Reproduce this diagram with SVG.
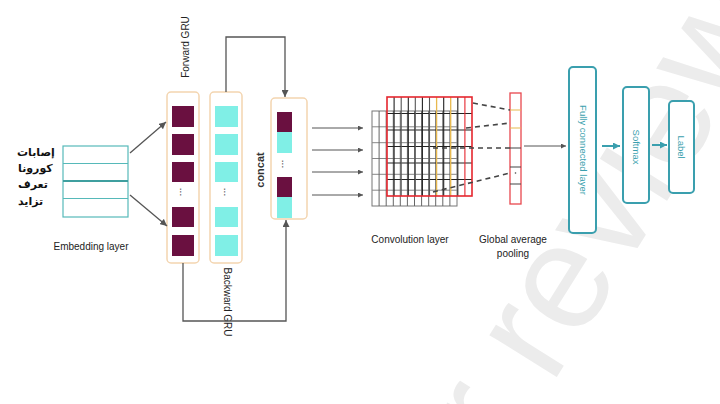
<svg xmlns="http://www.w3.org/2000/svg" width="720" height="404" viewBox="0 0 720 404">
<defs>
<style>
.lbl{font-family:"Liberation Sans",Arial,sans-serif;font-size:10px;fill:#222;}
.ar{font-family:"DejaVu Sans","Noto Sans",sans-serif;font-size:11px;font-weight:bold;fill:#111;}
.teal{font-family:"Liberation Sans",Arial,sans-serif;font-size:9.5px;fill:#3a9fae;}
.gru{fill:#fff;stroke:#f3d5b0;stroke-width:1.5;}
.m{fill:#6a1040;}
.c{fill:#80efe6;}
.conn{fill:none;stroke:#555;stroke-width:1.3;}
.tbox{fill:#fff;stroke:#3a9fae;stroke-width:2;}
</style>
<marker id="ah" viewBox="0 0 10 10" refX="10" refY="5" markerWidth="7" markerHeight="7" markerUnits="userSpaceOnUse" orient="auto"><path d="M0,0 L10,5 L0,10 z" fill="#555"/></marker>
<marker id="ahs" viewBox="0 0 10 10" refX="10" refY="5" markerWidth="5" markerHeight="5" markerUnits="userSpaceOnUse" orient="auto"><path d="M0,0 L10,5 L0,10 z" fill="#555"/></marker>
<marker id="aht" viewBox="0 0 10 10" refX="10" refY="5" markerWidth="7" markerHeight="7" markerUnits="userSpaceOnUse" orient="auto"><path d="M0,0 L10,5 L0,10 z" fill="#3a9fae"/></marker>
</defs>
<rect width="720" height="404" fill="#fff"/>
<text transform="translate(410,612) rotate(-58)" font-family="Liberation Sans, Arial, sans-serif" font-size="150" fill="#ececec">For review</text>

<g id="embedding">
<g class="ar">
<text x="17" y="156">إصابات</text>
<text x="18" y="172">كورونا</text>
<text x="18" y="188">تعرف</text>
<text x="18" y="205">تزايد</text>
</g>
<rect x="63" y="146" width="65" height="71" fill="#fff" stroke="#56b9b9" stroke-width="1.2"/>
<path d="M63,163.5H128M63,198.5H128" stroke="#56b9b9" stroke-width="1.2"/>
<path d="M63,181H128" stroke="#3f9f9f" stroke-width="2"/>
<text class="lbl" x="91" y="250" text-anchor="middle">Embedding layer</text>
</g>

<g id="forward-gru">
<rect class="gru" x="167" y="92" width="32" height="171" rx="4"/>
<rect class="m" x="172" y="106" width="22" height="21"/>
<rect class="m" x="172" y="134" width="22" height="21"/>
<rect class="m" x="172" y="162" width="22" height="20"/>
<text class="lbl" transform="translate(183,192) rotate(90)" text-anchor="middle" y="3">...</text>
<rect class="m" x="172" y="207" width="22" height="20"/>
<rect class="m" x="172" y="235" width="22" height="21"/>
<text class="lbl" transform="translate(185,47) rotate(-90)" text-anchor="middle" y="3.5">Forward GRU</text>
</g>

<g id="backward-gru">
<rect class="gru" x="210" y="92" width="32" height="171" rx="4"/>
<rect class="c" x="215" y="106" width="23" height="21"/>
<rect class="c" x="215" y="134" width="23" height="21"/>
<rect class="c" x="215" y="162" width="23" height="20"/>
<text class="lbl" transform="translate(226.5,192) rotate(90)" text-anchor="middle" y="3">...</text>
<rect class="c" x="215" y="207" width="23" height="20"/>
<rect class="c" x="215" y="235" width="23" height="21"/>
<text class="lbl" transform="translate(227,302) rotate(90)" text-anchor="middle" y="3.5">Backward GRU</text>
</g>

<g id="concat">
<rect class="gru" x="271" y="98" width="36" height="121" rx="4"/>
<rect class="m" x="277" y="112" width="15" height="20"/>
<rect class="c" x="277" y="132" width="15" height="21"/>
<text class="lbl" transform="translate(284.5,164) rotate(90)" text-anchor="middle" y="3">...</text>
<rect class="m" x="277" y="177" width="15" height="20"/>
<rect class="c" x="277" y="197" width="15" height="21"/>
<text class="lbl" transform="translate(260,170) rotate(-90)" text-anchor="middle" y="4" style="font-size:11px;font-weight:bold;fill:#333">concat</text>
</g>

<g id="convolution">
<rect x="372" y="111" width="85" height="95" fill="#fff" stroke="#777" stroke-width="1"/>
<path d="M372,126.8H457M372,142.7H457M372,158.5H457M372,174.3H457M372,190.2H457" stroke="#888" stroke-width="1"/>
<path d="M379.1,111V206M386.2,111V206M393.3,111V206M400.3,111V206M407.4,111V206M414.5,111V206M421.6,111V206M428.7,111V206M435.7,111V206M442.8,111V206M449.9,111V206" stroke="#666" stroke-width="1"/>
<path d="M387,113.5H472M387,130H472M387,146.5H472M387,163H472M387,179.5H472" stroke="#222" stroke-width="1.1"/>
<path d="M394.1,97V196M408.3,97V196M422.4,97V196M443.7,97V196M457.8,97V196" stroke="#222" stroke-width="1.1"/>
<path d="M401.2,97V196M415.3,97V196M429.5,97V196" stroke="#555" stroke-width="1.1"/>
<path d="M436.6,97V196M450.7,97V196" stroke="#e8b94e" stroke-width="1.3"/>
<path d="M464.9,97V196" stroke="#e5262e" stroke-width="1.1"/>
<rect x="387" y="97" width="85" height="99" fill="none" stroke="#e5262e" stroke-width="1.6"/>
<text class="lbl" x="410" y="243" text-anchor="middle">Convolution layer</text>
</g>

<g id="pooling">
<rect x="510" y="93" width="11" height="111" fill="#fff" stroke="#e8474e" stroke-width="1.3"/>
<path d="M510,110H521M510,128H521" stroke="#e8b94e" stroke-width="1.2"/>
<path d="M510,148H521M510,167H521M510,184H521" stroke="#444" stroke-width="1.1"/>
<circle cx="515.5" cy="173" r="0.8" fill="#444"/>
<text class="lbl" x="513" y="243" text-anchor="middle">Global average</text>
<text class="lbl" x="513" y="257" text-anchor="middle">pooling</text>
</g>

<g id="fully-connected">
<rect class="tbox" x="569" y="67" width="27" height="166" rx="4"/>
<text class="teal" transform="translate(583,150) rotate(90)" text-anchor="middle" y="3.3">Fully connected layer</text>
</g>
<g id="softmax">
<rect class="tbox" x="623" y="87" width="26" height="116" rx="4"/>
<text class="teal" transform="translate(636,147) rotate(90)" text-anchor="middle" y="3.3">Softmax</text>
</g>
<g id="label">
<rect class="tbox" x="669" y="101" width="25" height="92" rx="4"/>
<text class="teal" transform="translate(681.5,147) rotate(90)" text-anchor="middle" y="3.3">Label</text>
</g>

<g id="connectors">
<line class="conn" x1="130" y1="153" x2="166" y2="122" marker-end="url(#ah)"/>
<line class="conn" x1="130" y1="195" x2="167" y2="226" marker-end="url(#ah)"/>
<path class="conn" d="M226,92V37H285V97" marker-end="url(#ah)"/>
<path class="conn" d="M183,263V321H286V220" marker-end="url(#ah)"/>
<g stroke="#555" stroke-width="1" fill="none">
<line x1="312" y1="128" x2="363" y2="128" marker-end="url(#ahs)"/>
<line x1="312" y1="150" x2="363" y2="150" marker-end="url(#ahs)"/>
<line x1="312" y1="172" x2="363" y2="172" marker-end="url(#ahs)"/>
<line x1="312" y1="195" x2="363" y2="195" marker-end="url(#ahs)"/>
<line x1="524" y1="146" x2="566" y2="146" marker-end="url(#ahs)"/>
</g>
<g stroke="#444" stroke-width="1.6" stroke-dasharray="5,4" fill="none">
<line x1="473" y1="103" x2="510" y2="110"/>
<line x1="466" y1="128" x2="510" y2="123"/>
<line x1="433" y1="148" x2="510" y2="148"/>
<line x1="433" y1="192" x2="510" y2="173"/>
</g>
<line x1="602" y1="146" x2="620" y2="146" stroke="#3a9fae" stroke-width="2" marker-end="url(#aht)"/>
<line x1="652" y1="145" x2="667" y2="145" stroke="#3a9fae" stroke-width="2" marker-end="url(#aht)"/>
</g>
</svg>
